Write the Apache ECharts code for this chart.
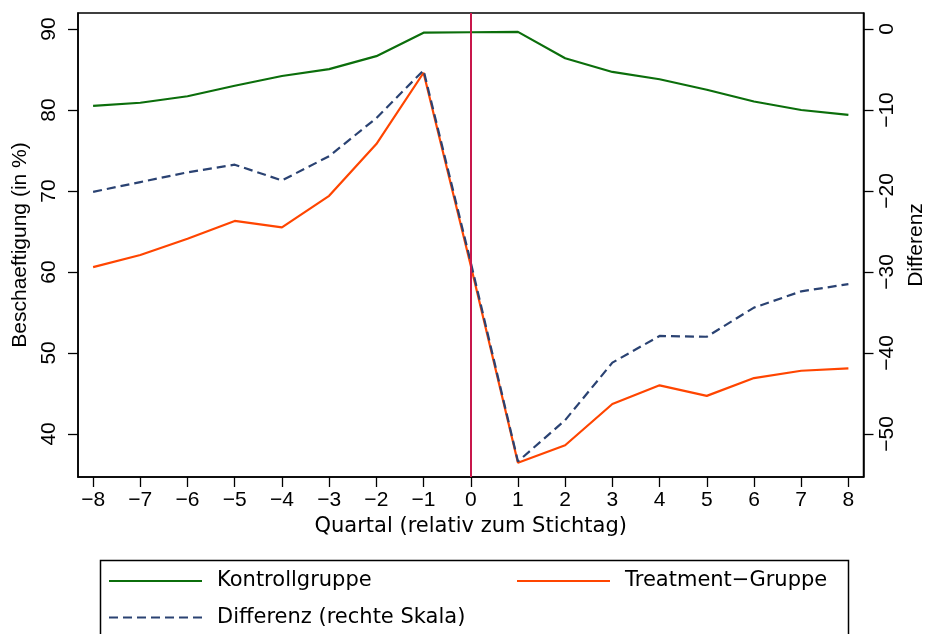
<!DOCTYPE html>
<html>
<head>
<meta charset="utf-8">
<script src="https://cdn.jsdelivr.net/npm/echarts@6/dist/echarts.min.js"></script>
<style>
html,body{margin:0;padding:0;background:#fff;}
#chart{width:927px;height:634px;}
</style>
</head>
<body>
<div id="chart"></div>
<script>
// ---- data ----
const quarters = [-8,-7,-6,-5,-4,-3,-2,-1,0,1,2,3,4,5,6,7,8];
const kontroll = [80.5,80.9,81.7,83.0,84.2,85.05,86.65,89.55,89.6,89.65,86.4,84.7,83.8,82.5,81.05,80.0,79.4];
const treatment = [60.6,62.1,64.1,66.3,65.5,69.4,75.8,84.6,60.8,36.45,38.6,43.7,46.0,44.7,46.9,47.8,48.1];
const differenz = [-20.1,-18.9,-17.7,-16.75,-18.7,-15.7,-11.0,-5.1,-28.8,-53.4,-48.3,-41.2,-37.9,-38.0,-34.4,-32.4,-31.5];
const xTicks = [-8,-7,-6,-5,-4,-3,-2,-1,0,1,2,3,4,5,6,7,8];
const leftTicks = [40,50,60,70,80,90];
const rightTicks = [-50,-40,-30,-20,-10,0];
const cutoff = 0;

const FONT = '"Liberation Sans", Arial, Helvetica, sans-serif';
const WIDE = '"DejaVu Sans", "Liberation Sans", sans-serif';
const fmt = v => String(v).replace('-', '\u2212');
const pairs = arr => quarters.map((q, i) => [q, arr[i]]);

const chart = echarts.init(document.getElementById('chart'), null, {renderer: 'canvas'});

const axisLineStyle = {show: true, onZero: false, lineStyle: {color: '#000', width: 1.5}};
const tickStyle = {show: true, length: 10, inside: false, lineStyle: {color: '#000', width: 1.3}};

const legendText = {color: '#000', fontFamily: WIDE, fontSize: 21, lineHeight: 22, padding: [0,0,0,10]};
const legendIconStyle = {opacity: 0, color: 'rgba(0,0,0,0)', borderWidth: 0, borderColor: 'rgba(0,0,0,0)'};

const option = {
  animation: false,
  backgroundColor: '#fff',
  textStyle: {fontFamily: FONT},
  grid: {left: 78, right: 63.5, top: 13, bottom: 157, show: true, borderColor: '#000', borderWidth: 1.5,
         backgroundColor: 'transparent', containLabel: false, outerBoundsMode: 'none'},
  xAxis: {
    type: 'value', min: -8.32, max: 8.32,
    name: 'Quartal (relativ zum Stichtag)', nameLocation: 'middle', nameGap: 32,
    nameTextStyle: {color: '#000', fontFamily: WIDE, fontSize: 21},
    axisLine: axisLineStyle, splitLine: {show: false},
    axisTick: Object.assign({}, tickStyle, {customValues: xTicks}),
    axisLabel: {customValues: xTicks, formatter: fmt, color: '#000', fontFamily: FONT, fontSize: 21, margin: 13},
  },
  yAxis: [
    {
      type: 'value', position: 'left', min: 34.68, max: 91.98,
      name: 'Beschaeftigung (in %)', nameLocation: 'middle', nameGap: 42,
      nameTextStyle: {color: '#000', fontFamily: FONT, fontSize: 21},
      axisLine: axisLineStyle, splitLine: {show: false},
      axisTick: Object.assign({}, tickStyle, {customValues: leftTicks}),
      axisLabel: {customValues: leftTicks, formatter: fmt, rotate: 90, color: '#000', fontFamily: FONT, fontSize: 21, margin: 18},
    },
    {
      type: 'value', position: 'right', min: -55.32, max: 1.98,
      name: 'Differenz', nameLocation: 'middle', nameGap: 35,
      nameTextStyle: {color: '#000', fontFamily: FONT, fontSize: 21},
      axisLine: axisLineStyle, splitLine: {show: false},
      axisTick: Object.assign({}, tickStyle, {customValues: rightTicks}),
      axisLabel: {customValues: rightTicks, formatter: fmt, rotate: 90, color: '#000', fontFamily: FONT, fontSize: 21, margin: 13},
    }
  ],
  legend: [
    {data: ['Kontrollgruppe'], left: 108, top: 570, padding: 0, itemWidth: 93, itemHeight: 22,
     itemStyle: legendIconStyle, textStyle: legendText},
    {data: ['Treatment\u2212Gruppe'], left: 516, top: 570, padding: 0, itemWidth: 93, itemHeight: 22,
     itemStyle: legendIconStyle, textStyle: legendText},
    {data: ['Differenz (rechte Skala)'], left: 108, top: 606.5, padding: 0, itemWidth: 93, itemHeight: 22,
     itemStyle: legendIconStyle, textStyle: legendText}
  ],
  graphic: [
    {type: 'rect', left: 98, top: 558, shape: {width: 748, height: 100},
     style: {fill: 'none', stroke: '#000', lineWidth: 1.5}, silent: true}
  ],
  series: [
    {name: 'Kontrollgruppe', type: 'line', yAxisIndex: 0, data: pairs(kontroll), symbol: 'none',
     lineStyle: {color: '#0b6e0b', width: 2.2}, itemStyle: {color: '#0b6e0b'}, z: 2},
    {name: 'Treatment\u2212Gruppe', type: 'line', yAxisIndex: 0, data: pairs(treatment), symbol: 'none',
     lineStyle: {color: '#ff4500', width: 2.2}, itemStyle: {color: '#ff4500'}, z: 3},
    {name: 'Differenz (rechte Skala)', type: 'line', yAxisIndex: 1, data: pairs(differenz), symbol: 'none',
     lineStyle: {color: '#2a4272', width: 2.2, type: [9, 5]}, itemStyle: {color: '#2a4272'}, z: 4,
     markLine: {silent: true, symbol: 'none', label: {show: false},
       lineStyle: {color: '#c8174b', width: 2, type: 'solid'},
       data: [{xAxis: cutoff}]}}
  ]
};
chart.setOption(option);
</script>
</body>
</html>
